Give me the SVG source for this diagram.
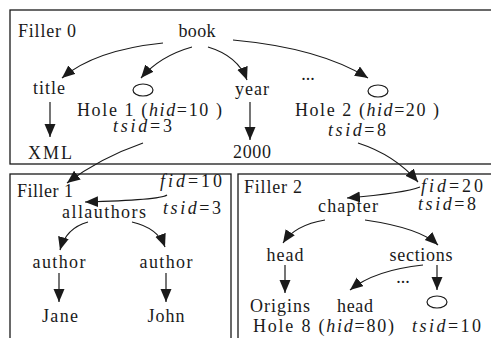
<svg xmlns="http://www.w3.org/2000/svg" width="491" height="338" viewBox="0 0 491 338">
<style>
text{font-family:'Liberation Serif','DejaVu Serif',serif;font-size:18px;fill:#1a1a1a}
.m{text-anchor:middle}
.i{font-style:italic}
.box{fill:none;stroke:#1a1a1a;stroke-width:1.3}
.c{fill:none;stroke:#1a1a1a;stroke-width:1.2;marker-end:url(#ah)}
.hole{fill:#fff;stroke:#1a1a1a;stroke-width:1.2}
</style>
<defs>
<marker id="ah" markerUnits="userSpaceOnUse" markerWidth="14" markerHeight="12" refX="13" refY="5.5" orient="auto">
<path d="M0,0 L13,5.5 L0,11 Z" fill="#1a1a1a"/>
</marker>
</defs>
<rect width="491" height="338" fill="#fff"/>
<g id="fillers">
<rect id="filler0-box" class="box" x="10" y="10" width="490" height="154"/>
<rect id="filler1-box" class="box" x="10" y="174" width="221" height="180"/>
<rect id="filler2-box" class="box" x="238" y="174" width="270" height="180"/>
</g>
<g id="connectors">
<path class="c" d="M163,43 Q95,50 62,78"/>
<path class="c" d="M192,47 Q160,56 141,78"/>
<path class="c" d="M208,47 Q238,56 247,80"/>
<path class="c" d="M233,40 Q320,48 368,78"/>
<path class="c" d="M50,102 L50,137"/>
<path class="c" d="M250,102 L250,140"/>
<path class="c" d="M143,143 Q100,158 67,183"/>
<path class="c" d="M358,143 Q395,155 418,182"/>
<path class="c" d="M167,195 Q160,200 85,202"/>
<path class="c" d="M88,222 Q66,228 60,250"/>
<path class="c" d="M132,222 Q158,228 165,247"/>
<path class="c" d="M59,273 L59,302"/>
<path class="c" d="M166,273 L166,302"/>
<path class="c" d="M420,187 Q405,193 347,198"/>
<path class="c" d="M325,220 Q295,225 283,243"/>
<path class="c" d="M365,220 Q420,228 438,245"/>
<path class="c" d="M285,265 L285,293"/>
<path class="c" d="M437,265 L437,290"/>
<path class="c" d="M423,265 Q375,270 350,290"/>
</g>
<g id="filler0">
<text x="18" y="37" textLength="58">Filler 0</text>
</g>
<g id="book"><text class="m" x="197" y="37" textLength="37">book</text></g>
<g id="title"><text class="m" x="49" y="94" textLength="32">title</text></g>
<g id="xml"><text class="m" x="50" y="159" textLength="44">XML</text></g>
<g id="hole1">
<ellipse class="hole" cx="143" cy="90" rx="10" ry="6"/>
<text x="77" y="116" textLength="145">Hole 1 (<tspan class="i">hid</tspan>=10 )</text>
<text x="113" y="132" textLength="59"><tspan class="i">tsid</tspan>=3</text>
</g>
<g id="year"><text class="m" x="252" y="95" textLength="34">year</text></g>
<g id="y2000"><text class="m" x="252" y="158" textLength="38">2000</text></g>
<g id="dots0"><text class="m" x="308" y="80">...</text></g>
<g id="hole2">
<ellipse class="hole" cx="378" cy="91" rx="10" ry="6"/>
<text x="295" y="116" textLength="144">Hole 2 (<tspan class="i">hid</tspan>=20 )</text>
<text x="328" y="136" textLength="58"><tspan class="i">tsid</tspan>=8</text>
</g>
<g id="filler1">
<text x="17" y="197" textLength="56">Filler 1</text>
<text x="160" y="187" textLength="62"><tspan class="i">fid</tspan>=10</text>
<text x="163" y="214" textLength="58"><tspan class="i">tsid</tspan>=3</text>
</g>
<g id="allauthors"><text class="m" x="104" y="218" textLength="84">allauthors</text></g>
<g id="author1"><text class="m" x="59" y="268" textLength="53">author</text></g>
<g id="author2"><text class="m" x="166" y="268" textLength="53">author</text></g>
<g id="jane"><text class="m" x="60" y="322" textLength="36">Jane</text></g>
<g id="john"><text class="m" x="166" y="322" textLength="37">John</text></g>
<g id="filler2">
<text x="244" y="193" textLength="58">Filler 2</text>
<text x="421" y="192" textLength="62"><tspan class="i">fid</tspan>=20</text>
<text x="418" y="210" textLength="58"><tspan class="i">tsid</tspan>=8</text>
</g>
<g id="chapter"><text class="m" x="348" y="212" textLength="60">chapter</text></g>
<g id="head1"><text class="m" x="285" y="261" textLength="37">head</text></g>
<g id="sections"><text class="m" x="421" y="261" textLength="63">sections</text></g>
<g id="origins"><text class="m" x="280" y="312" textLength="60">Origins</text></g>
<g id="head2"><text class="m" x="355" y="312" textLength="36">head</text></g>
<g id="dots2"><text class="m" x="403" y="283">...</text></g>
<g id="hole8">
<ellipse class="hole" cx="437" cy="302" rx="10" ry="6"/>
<text x="253" y="332" textLength="141">Hole 8 (<tspan class="i">hid</tspan>=80)</text>
<text x="412" y="332" textLength="69"><tspan class="i">tsid</tspan>=10</text>
</g>
</svg>
